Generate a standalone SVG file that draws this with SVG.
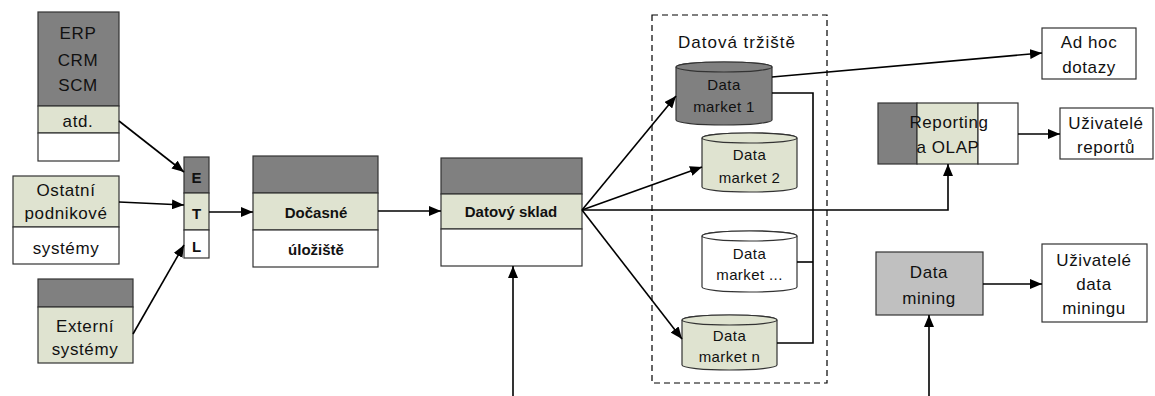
<svg xmlns="http://www.w3.org/2000/svg" width="1155" height="396" viewBox="0 0 1155 396">
<defs>
<style>
.dk{fill:#808080;stroke:#333;stroke-width:1.2}
.lt{fill:#dfe3d0;stroke:#333;stroke-width:1.2}
.wh{fill:#fff;stroke:#333;stroke-width:1.2}
.gr{fill:#c0c0c0;stroke:#333;stroke-width:1.2}
.t{font-family:"Liberation Sans",Arial,sans-serif;font-size:17px;letter-spacing:0.6px;fill:#111;text-anchor:middle;dominant-baseline:central}
.tb{font-family:"Liberation Sans",Arial,sans-serif;font-size:15px;font-weight:bold;fill:#111;text-anchor:middle;dominant-baseline:central}
.ts{font-family:"Liberation Sans",Arial,sans-serif;font-size:15px;letter-spacing:0.4px;fill:#111;text-anchor:middle;dominant-baseline:central}
.tl{font-family:"Liberation Sans",Arial,sans-serif;font-size:17px;letter-spacing:1px;fill:#111;text-anchor:middle;dominant-baseline:central}
.c{fill:none;stroke:#000;stroke-width:1.6}
</style>
<marker id="ah" viewBox="0 0 12 10" refX="12" refY="5" markerWidth="12" markerHeight="10" markerUnits="userSpaceOnUse" orient="auto">
<path d="M0,0 L12,5 L0,10 Z" fill="#000"/>
</marker>
</defs>
<rect width="1155" height="396" fill="#fff"/>

<g id="dashed-area">
<rect x="652" y="15" width="175" height="368" fill="none" stroke="#000" stroke-width="1.2" stroke-dasharray="6,4"/>
<text class="tl" x="737" y="42">Datová tržiště</text>
</g>

<g id="erp">
<rect class="dk" x="38" y="12" width="81" height="94"/>
<rect class="lt" x="38" y="106" width="81" height="27"/>
<rect class="wh" x="38" y="133" width="81" height="28"/>
<text class="t" x="78" y="33">ERP</text>
<text class="t" x="78" y="60">CRM</text>
<text class="t" x="78" y="85">SCM</text>
<text class="t" x="78" y="121">atd.</text>
</g>

<g id="ostatni">
<rect class="lt" x="13" y="176" width="106" height="51"/>
<rect class="wh" x="13" y="227" width="106" height="37"/>
<text class="t" x="66" y="190">Ostatní</text>
<text class="t" x="66" y="213">podnikové</text>
<text class="t" x="66" y="248">systémy</text>
</g>

<g id="externi">
<rect class="dk" x="38" y="279" width="95" height="28"/>
<rect class="lt" x="38" y="307" width="95" height="56"/>
<text class="t" x="85" y="326">Externí</text>
<text class="t" x="85" y="349">systémy</text>
</g>

<g id="etl">
<rect class="dk" x="184" y="157" width="25" height="36"/>
<rect class="lt" x="184" y="193" width="25" height="37"/>
<rect class="wh" x="184" y="230" width="25" height="28"/>
<text class="tb" x="196.5" y="177">E</text>
<text class="tb" x="196.5" y="213">T</text>
<text class="tb" x="196.5" y="246">L</text>
</g>

<g id="docasne">
<rect class="dk" x="253" y="156" width="125" height="37"/>
<rect class="lt" x="253" y="193" width="125" height="37"/>
<rect class="wh" x="253" y="230" width="125" height="37"/>
<text class="tb" x="316" y="212">Dočasné</text>
<text class="tb" x="316" y="249">úložiště</text>
</g>

<g id="sklad">
<rect class="dk" x="441" y="158" width="141" height="36"/>
<rect class="lt" x="441" y="194" width="141" height="35"/>
<rect class="wh" x="441" y="229" width="141" height="37"/>
<text class="tb" x="511" y="211">Datový sklad</text>
</g>

<g id="dm1">
<path class="dk" d="M676,67 L676,120 A48,5 0 0 0 772,120 L772,67 A48,5 0 0 0 676,67 Z"/>
<ellipse class="dk" cx="724" cy="67" rx="48" ry="5"/>
<text class="ts" x="724" y="84">Data</text>
<text class="ts" x="724" y="106">market 1</text>
</g>

<g id="dm2">
<path class="lt" d="M702,138 L702,187 A47.5,5 0 0 0 797,187 L797,138 A47.5,5 0 0 0 702,138 Z"/>
<ellipse class="lt" cx="749.5" cy="138" rx="47.5" ry="5"/>
<text class="ts" x="749.5" y="154">Data</text>
<text class="ts" x="749.5" y="177">market 2</text>
</g>

<g id="dm3">
<path class="wh" d="M702,236 L702,287 A47.5,5 0 0 0 797,287 L797,236 A47.5,5 0 0 0 702,236 Z"/>
<ellipse class="wh" cx="749.5" cy="236" rx="47.5" ry="5"/>
<text class="ts" x="749.5" y="253">Data</text>
<text class="ts" x="749.5" y="274">market ...</text>
</g>

<g id="dmn">
<path class="lt" d="M682,320 L682,365 A47.5,5 0 0 0 777,365 L777,320 A47.5,5 0 0 0 682,320 Z"/>
<ellipse class="lt" cx="729.5" cy="320" rx="47.5" ry="5"/>
<text class="ts" x="729.5" y="335">Data</text>
<text class="ts" x="729.5" y="356">market n</text>
</g>

<g id="adhoc">
<rect class="wh" x="1042" y="28" width="94" height="51"/>
<text class="t" x="1089" y="42">Ad hoc</text>
<text class="t" x="1089" y="67">dotazy</text>
</g>

<g id="reporting">
<rect class="dk" x="878" y="103" width="39" height="61"/>
<rect class="lt" x="917" y="103" width="61" height="61"/>
<rect class="wh" x="978" y="103" width="40" height="61"/>
<text class="t" x="949" y="122">Reporting</text>
<text class="t" x="948" y="147">a OLAP</text>
</g>

<g id="uziv-reportu">
<rect class="wh" x="1060" y="108" width="93" height="51"/>
<text class="t" x="1106" y="123">Uživatelé</text>
<text class="t" x="1106" y="147">reportů</text>
</g>

<g id="datamining">
<rect class="gr" x="876" y="252" width="107" height="63"/>
<text class="t" x="929" y="272">Data</text>
<text class="t" x="929" y="298">mining</text>
</g>

<g id="uziv-dm">
<rect class="wh" x="1042" y="244" width="105" height="78"/>
<text class="t" x="1094" y="260">Uživatelé</text>
<text class="t" x="1094" y="284">data</text>
<text class="t" x="1094" y="308">miningu</text>
</g>

<g id="connectors">
<line class="c" x1="119" y1="121" x2="184" y2="172" marker-end="url(#ah)"/>
<line class="c" x1="119" y1="202" x2="184" y2="205" marker-end="url(#ah)"/>
<line class="c" x1="133" y1="334" x2="184" y2="245" marker-end="url(#ah)"/>
<line class="c" x1="209" y1="212" x2="253" y2="212" marker-end="url(#ah)"/>
<line class="c" x1="378" y1="211" x2="441" y2="211" marker-end="url(#ah)"/>
<line class="c" x1="513" y1="396" x2="513" y2="266" marker-end="url(#ah)"/>
<line class="c" x1="582" y1="210" x2="676" y2="96" marker-end="url(#ah)"/>
<line class="c" x1="582" y1="210" x2="702" y2="167" marker-end="url(#ah)"/>
<line class="c" x1="582" y1="210" x2="682" y2="339" marker-end="url(#ah)"/>
<polyline class="c" points="582,210 948,210 948,164" marker-end="url(#ah)"/>
<line class="c" x1="772" y1="77" x2="1042" y2="53" marker-end="url(#ah)"/>
<polyline class="c" points="772,93 813,93 813,343 777,343"/>
<line class="c" x1="797" y1="262" x2="813" y2="262"/>
<line class="c" x1="1018" y1="134" x2="1060" y2="134" marker-end="url(#ah)"/>
<line class="c" x1="983" y1="284" x2="1042" y2="284" marker-end="url(#ah)"/>
<line class="c" x1="929" y1="396" x2="929" y2="315" marker-end="url(#ah)"/>
</g>
</svg>
